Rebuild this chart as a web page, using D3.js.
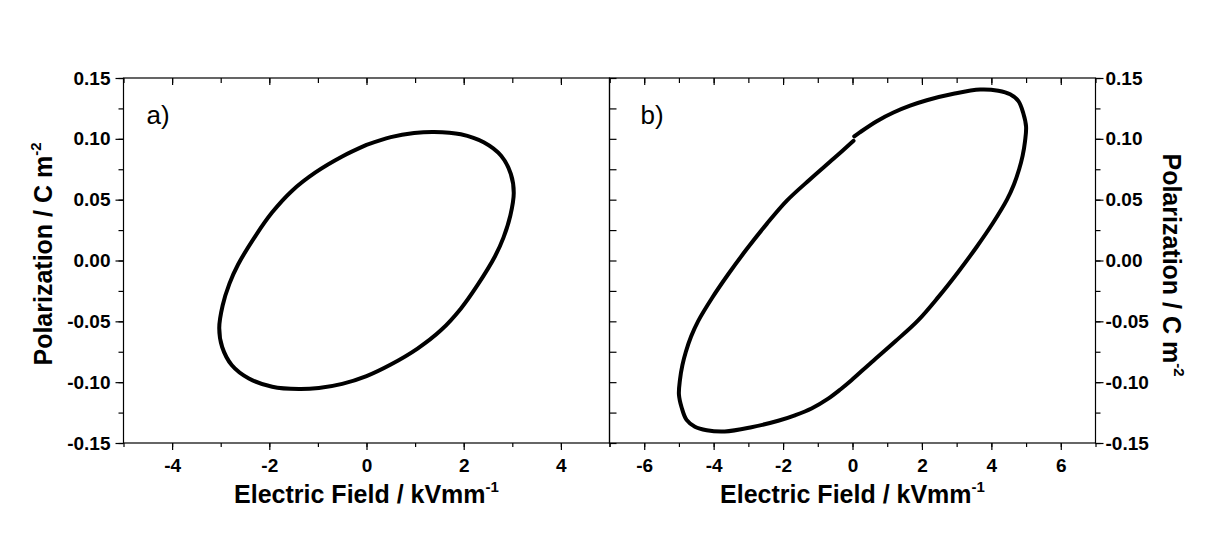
<!DOCTYPE html>
<html>
<head>
<meta charset="utf-8">
<script src="https://cdn.jsdelivr.net/npm/d3@7"></script>
<style>
  html, body { margin: 0; padding: 0; background: #fff; }
  svg { display: block; font-family: "Liberation Sans", Arial, sans-serif; }
</style>
</head>
<body>
<svg id="chart" width="1205" height="553"></svg>
<script>
// P-E loop, panel a (E in kV/mm, P in C/m²), traced clockwise from the start point
const loopA_E = [0.00, 0.50, 0.98, 1.39, 1.94, 2.42, 2.77, 2.97, 3.03, 2.96, 2.82, 2.645, 2.28, 1.94,
  1.53, 1.05, 0.50, 0.00, -0.50, -0.98, -1.39, -1.94, -2.42, -2.77, -2.97, -3.03, -2.96, -2.82, -2.645,
  -2.28, -1.94, -1.53, -1.05, -0.50, 0.00];
const loopA_P = [0.0950, 0.1014, 0.1048, 0.1057, 0.1038, 0.0970, 0.0861, 0.0711, 0.0555, 0.0370,
  0.0190, 0.0035, -0.0205, -0.0396, -0.0574, -0.0724, -0.0855, -0.0950, -0.1014, -0.1048, -0.1057,
  -0.1038, -0.0970, -0.0861, -0.0711, -0.0555, -0.0370, -0.0190, -0.0035, 0.0205, 0.0396, 0.0574,
  0.0724, 0.0855, 0.0950];

// P-E loop, panel b
const loopB_E = [0.05, 0.22, 0.70, 1.18, 1.66, 2.14, 2.91, 3.68, 4.20, 4.54, 4.78, 4.92, 5.00, 4.97,
  4.90, 4.80, 4.65, 4.45, 4.05, 3.57, 3.04, 2.47, 1.89, 1.22, 0.55, -0.03, -0.35, -0.70, -1.18, -1.66,
  -2.14, -2.91, -3.68, -4.20, -4.54, -4.78, -4.92, -5.00, -4.97, -4.90, -4.80, -4.65, -4.45, -4.05,
  -3.57, -3.04, -2.47, -1.89, -1.22, -0.55, 0.03];
const loopB_P = [0.1020, 0.1055, 0.1145, 0.1216, 0.1272, 0.1317, 0.1370, 0.1405, 0.1395, 0.1366,
  0.1310, 0.1210, 0.1100, 0.0980, 0.0860, 0.0750, 0.0625, 0.0500, 0.0310, 0.0109, -0.0096, -0.0301,
  -0.0492, -0.0668, -0.0836, -0.0984, -0.1060, -0.1135, -0.1216, -0.1272, -0.1317, -0.1370, -0.1405,
  -0.1395, -0.1366, -0.1310, -0.1210, -0.1100, -0.0980, -0.0860, -0.0750, -0.0625, -0.0500, -0.0310,
  -0.0109, 0.0096, 0.0301, 0.0492, 0.0668, 0.0836, 0.0984];

const xDomainA = [-5, 5];
const xDomainB = [-7, 7];
const yDomain = [-0.15, 0.15];
const xTicksA = [-4, -2, 0, 2, 4];
const xTicksB = [-6, -4, -2, 0, 2, 4, 6];
const yTicks = [-0.15, -0.10, -0.05, 0.00, 0.05, 0.10, 0.15];
const panelLabels = ["a)", "b)"];
const xTitle = "Electric Field / kVmm";
const xTitleSup = "-1";
const yTitle = "Polarization / C m";
const yTitleSup = "-2";

// ─────────────────────────────────────────────
// Layout
// ─────────────────────────────────────────────
const plotTop = 78, plotBottom = 443;
const aLeft = 123.5, mid = 609.5, bRight = 1095.5;
const tickFont = 19, titleFont = 25;

const svg = d3.select("#chart");

const y = d3.scaleLinear().domain(yDomain).range([plotBottom, plotTop]);
const xA = d3.scaleLinear().domain(xDomainA).range([aLeft, mid]);
const xB = d3.scaleLinear().domain(xDomainB).range([mid, bRight]);

const minorX = (dom) => d3.range(dom[0], dom[1] + 0.001, 1);
const minorY = d3.range(-0.15, 0.1501, 0.025);

// plain hyphen for negatives, like the original
const hyphen = (fmt) => (d) => d3.format(fmt)(d).replace("\u2212", "-");

function styleAxis(g) {
  g.select(".domain").remove();
  g.selectAll(".tick line").attr("stroke", "#000").attr("stroke-width", 1.2);
  g.selectAll(".tick text")
    .attr("fill", "#000")
    .attr("font-size", tickFont)
    .attr("font-weight", "bold")
    .attr("font-family", "Liberation Sans, Arial, sans-serif");
}

function drawPanel(x, xTicks, left, right, opts) {
  // bottom, outward
  svg.append("g").attr("transform", `translate(0,${plotBottom})`)
    .call(d3.axisBottom(x).tickValues(minorX(x.domain())).tickSize(4).tickFormat(""))
    .call(styleAxis);
  svg.append("g").attr("transform", `translate(0,${plotBottom})`)
    .call(d3.axisBottom(x).tickValues(xTicks).tickSize(7).tickPadding(9).tickFormat(hyphen("d")))
    .call(styleAxis);
  // top, inward
  svg.append("g").attr("transform", `translate(0,${plotTop})`)
    .call(d3.axisBottom(x).tickValues(minorX(x.domain())).tickSize(5).tickFormat(""))
    .call(styleAxis);
  svg.append("g").attr("transform", `translate(0,${plotTop})`)
    .call(d3.axisBottom(x).tickValues(xTicks).tickSize(7).tickFormat(""))
    .call(styleAxis);

  if (opts.leftLabels) {
    svg.append("g").attr("transform", `translate(${left},0)`)
      .call(d3.axisLeft(y).tickValues(minorY).tickSize(5).tickFormat(""))
      .call(styleAxis);
    svg.append("g").attr("transform", `translate(${left},0)`)
      .call(d3.axisLeft(y).tickValues(yTicks).tickSize(8).tickPadding(5).tickFormat(hyphen(".2f")))
      .call(styleAxis);
  } else {
    // inward ticks on shared divider
    svg.append("g").attr("transform", `translate(${left},0)`)
      .call(d3.axisRight(y).tickValues(minorY).tickSize(7).tickFormat(""))
      .call(styleAxis);
  }
  if (opts.rightLabels) {
    svg.append("g").attr("transform", `translate(${right},0)`)
      .call(d3.axisRight(y).tickValues(minorY).tickSize(5).tickFormat(""))
      .call(styleAxis);
    svg.append("g").attr("transform", `translate(${right},0)`)
      .call(d3.axisRight(y).tickValues(yTicks).tickSize(8).tickPadding(2).tickFormat(hyphen(".2f")))
      .call(styleAxis);
  }

  // frame
  svg.append("rect")
    .attr("x", left).attr("y", plotTop)
    .attr("width", right - left).attr("height", plotBottom - plotTop)
    .attr("fill", "none").attr("stroke", "#000").attr("stroke-width", 1.2);

  // loop curve
  const pts = d3.zip(opts.E, opts.P);
  svg.append("path")
    .datum(pts)
    .attr("fill", "none")
    .attr("stroke", "#000")
    .attr("stroke-width", 4)
    .attr("stroke-linejoin", "round")
    .attr("stroke-linecap", "round")
    .attr("d", d3.line().x((d) => x(d[0])).y((d) => y(d[1])).curve(d3.curveCatmullRom.alpha(0.5)));

  // panel label
  svg.append("text")
    .attr("x", left + opts.labelDx).attr("y", 124)
    .attr("font-size", 26)
    .attr("fill", "#000")
    .text(opts.label);

  // x title
  const xt = svg.append("text")
    .attr("x", (left + right) / 2).attr("y", 503)
    .attr("text-anchor", "middle")
    .attr("font-size", titleFont).attr("font-weight", "bold")
    .attr("fill", "#000");
  xt.append("tspan").text(xTitle);
  xt.append("tspan").attr("font-size", 15).attr("dy", -11).text(xTitleSup);
}

drawPanel(xA, xTicksA, aLeft, mid, {
  leftLabels: true, rightLabels: false, E: loopA_E, P: loopA_P, label: panelLabels[0], labelDx: 23,
});
drawPanel(xB, xTicksB, mid, bRight, {
  leftLabels: false, rightLabels: true, E: loopB_E, P: loopB_P, label: panelLabels[1], labelDx: 31,
});

// y titles
function yTitleText(xPos, yPos, angle) {
  const t = svg.append("text")
    .attr("transform", `translate(${xPos},${yPos}) rotate(${angle})`)
    .attr("text-anchor", "middle")
    .attr("font-size", titleFont).attr("font-weight", "bold")
    .attr("fill", "#000");
  t.append("tspan").text(yTitle);
  t.append("tspan").attr("font-size", 15).attr("dy", -11).text(yTitleSup);
}
yTitleText(52, 254, -90);
yTitleText(1163, 265, 90);
</script>
</body>
</html>
